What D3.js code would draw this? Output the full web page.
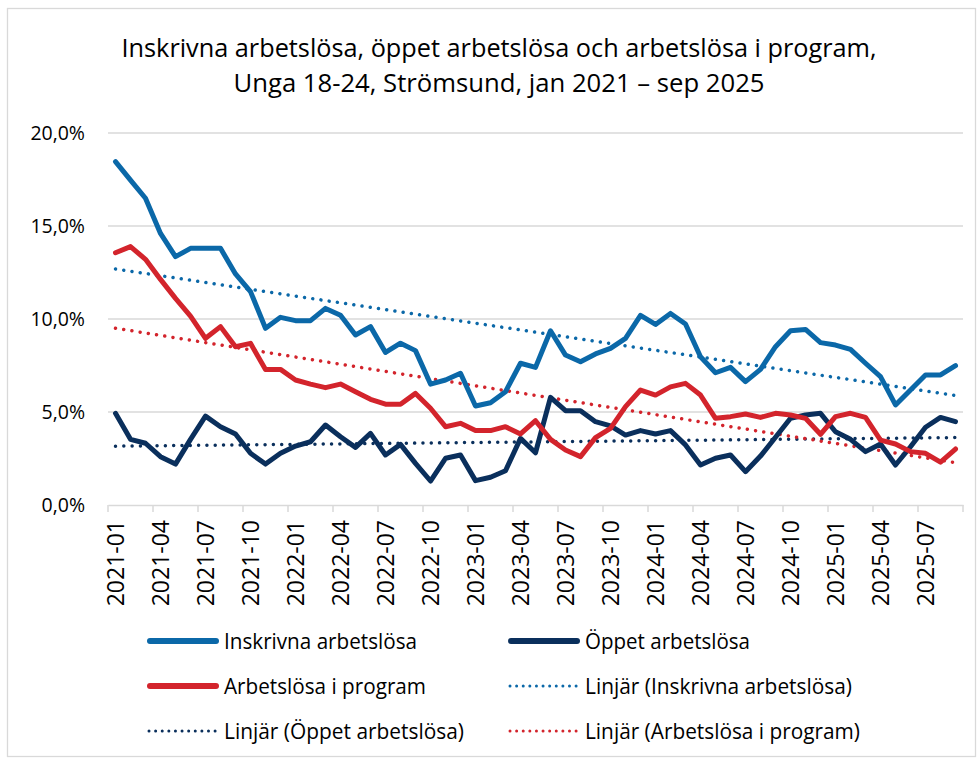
<!DOCTYPE html>
<html>
<head>
<meta charset="utf-8">
<script src="https://cdn.jsdelivr.net/npm/d3@7"></script>
<style>
  body { margin: 0; background: #fff; }
  text { font-family: "Open Sans", sans-serif; fill: #000; }
</style>
</head>
<body>
<script>
// SVG size
const width = 978;
const height = 760;

// months jan 2021 - sep 2025
const months = d3.timeMonths(new Date(2021, 0, 1), new Date(2025, 9, 1)).map(d3.timeFormat("%Y-%m"));

// values in percent
const inskrivna = [18.46, 17.47, 16.49, 14.6, 13.35, 13.8, 13.8, 13.8, 12.42, 11.47, 9.5, 10.09,
    9.91, 9.91, 10.57, 10.2, 9.14, 9.59, 8.2, 8.7, 8.3, 6.5, 6.72, 7.08,
    5.32, 5.5, 6.09, 7.62, 7.4, 9.37, 8.06, 7.7, 8.12, 8.42, 8.96, 10.2,
    9.71, 10.3, 9.73, 7.97, 7.11, 7.4, 6.63, 7.29, 8.51, 9.37, 9.44, 8.73,
    8.6, 8.37, 7.62, 6.9, 5.38, 6.18, 6.99, 6.99, 7.49];
const oppet = [4.93, 3.53, 3.32, 2.6, 2.2, 3.53, 4.78, 4.21, 3.82, 2.78, 2.2, 2.78,
    3.17, 3.4, 4.3, 3.67, 3.1, 3.85, 2.69, 3.26, 2.24, 1.29, 2.51, 2.69,
    1.31, 1.49, 1.84, 3.58, 2.81, 5.79, 5.07, 5.07, 4.48, 4.25, 3.76, 4.0,
    3.82, 4.0, 3.23, 2.15, 2.51, 2.69, 1.79, 2.63, 3.64, 4.66, 4.84, 4.93,
    3.94, 3.53, 2.87, 3.28, 2.15, 3.13, 4.18, 4.71, 4.48];
const program = [13.56, 13.89, 13.21, 12.13, 11.11, 10.16, 8.96, 9.59, 8.51, 8.69, 7.29, 7.29,
    6.72, 6.5, 6.31, 6.5, 6.09, 5.68, 5.42, 5.42, 6.0, 5.2, 4.21, 4.39,
    4.0, 4.0, 4.21, 3.82, 4.53, 3.53, 2.96, 2.6, 3.62, 4.12, 5.29, 6.18,
    5.91, 6.35, 6.54, 5.91, 4.66, 4.75, 4.89, 4.71, 4.93, 4.84, 4.66, 3.8,
    4.75, 4.93, 4.71, 3.49, 3.28, 2.87, 2.78, 2.3, 3.01];

const yTicks = [0, 5, 10, 15, 20];

const blue = "#0b68a8";
const navy = "#0a2f5c";
const red = "#d3242c";
const grid = "#d9d9d9";

const series = [
    { name: "Inskrivna arbetslösa", values: inskrivna, color: blue },
    { name: "Öppet arbetslösa", values: oppet, color: navy },
    { name: "Arbetslösa i program", values: program, color: red }
];

// create SVG
const svg = d3.select("body")
    .append("svg")
    .attr("width", width)
    .attr("height", height);

// chart border
svg.append("rect")
    .attr("x", 7.5).attr("y", 8.5)
    .attr("width", width - 10).attr("height", height - 12)
    .attr("fill", "none")
    .attr("stroke", grid)
    .attr("stroke-width", 1.3);

// title
const title = [
    { t: "Inskrivna arbetslösa, öppet arbetslösa och arbetslösa i program,", y: 56.5, w: 755 },
    { t: "Unga 18-24, Strömsund, jan 2021 – sep 2025", y: 91.5, w: 531 }
];
svg.selectAll(".title")
    .data(title)
    .enter()
    .append("text")
    .attr("class", "title")
    .attr("x", 499)
    .attr("y", d => d.y)
    .attr("text-anchor", "middle")
    .attr("textLength", d => d.w)
    .attr("lengthAdjust", "spacingAndGlyphs")
    .style("font-size", "25.5px")
    .text(d => d.t);

// scales
const x = d3.scaleBand()
    .domain(months)
    .range([108, 963]);

const y = d3.scaleLinear()
    .domain([0, 20])
    .range([505, 133]);

const cx = m => x(m) + x.bandwidth() / 2;

// gridlines
svg.selectAll(".grid")
    .data(yTicks.slice(1))
    .enter()
    .append("line")
    .attr("x1", 108).attr("x2", 963)
    .attr("y1", d => y(d)).attr("y2", d => y(d))
    .attr("stroke", grid)
    .attr("stroke-width", 1.5);

// Y axis labels
const yAxis = d3.axisLeft(y)
    .tickValues(yTicks)
    .tickSize(0)
    .tickPadding(0)
    .tickFormat(d => d3.format(".1f")(d).replace(".", ",") + "%");

svg.append("g")
    .attr("transform", "translate(85,0)")
    .call(yAxis)
    .call(g => g.select(".domain").remove())
    .call(g => g.selectAll("text")
        .style("font-size", "19.5px")
        .style("font-family", "'Open Sans', sans-serif")
        .attr("fill", "#000"));

// X axis
const tickMonths = months.filter((m, i) => i % 3 === 0);

const xAxis = d3.axisBottom(x)
    .tickValues(tickMonths)
    .tickSize(0)
    .tickPadding(0);

const gx = svg.append("g")
    .attr("transform", "translate(0,505)")
    .call(xAxis);

gx.select(".domain")
    .attr("stroke", grid)
    .attr("stroke-width", 1.5);

gx.selectAll("text")
    .attr("transform", "rotate(-90)")
    .attr("x", -15)
    .attr("y", 0)
    .attr("dy", "0.35em")
    .attr("text-anchor", "end")
    .style("font-size", "23px")
    .style("font-family", "'Open Sans', sans-serif")
    .attr("fill", "#000");

// tick marks between categories, every 3 months
const tickPos = d3.range(0, months.length + 1, 3).map(i => 108 + i * x.step());
svg.selectAll(".xtick")
    .data(tickPos)
    .enter()
    .append("line")
    .attr("x1", d => d).attr("x2", d => d)
    .attr("y1", 505).attr("y2", 512)
    .attr("stroke", grid)
    .attr("stroke-width", 1.5);

// linear trend (least squares, like Excel's "Linjär")
function trend(values) {
    const xs = values.map((v, i) => i);
    const mx = d3.mean(xs), my = d3.mean(values);
    const b = d3.sum(xs, (xi, i) => (xi - mx) * (values[i] - my)) / d3.sum(xs, xi => (xi - mx) ** 2);
    const a = my - b * mx;
    return [0, values.length - 1].map(i => ({ i: i, v: a + b * i }));
}

const line = d3.line()
    .x((d, i) => cx(months[i]))
    .y(d => y(d));

// trend lines drawn under the data lines
svg.selectAll(".trend")
    .data(series)
    .enter()
    .append("line")
    .attr("class", "trend")
    .each(function(s) {
        const t = trend(s.values);
        d3.select(this)
            .attr("x1", cx(months[t[0].i])).attr("y1", y(t[0].v))
            .attr("x2", cx(months[t[1].i])).attr("y2", y(t[1].v));
    })
    .attr("stroke", s => s.color)
    .attr("stroke-width", 3.5)
    .attr("stroke-linecap", "round")
    .attr("stroke-dasharray", "0.01 8.3");

// data lines
svg.selectAll(".series")
    .data(series)
    .enter()
    .append("path")
    .attr("class", "series")
    .attr("d", s => line(s.values))
    .attr("fill", "none")
    .attr("stroke", s => s.color)
    .attr("stroke-width", 5)
    .attr("stroke-linejoin", "round")
    .attr("stroke-linecap", "round");

// legend
const legend = [
    { label: "Inskrivna arbetslösa", color: blue, dotted: false, x: 147, y: 641, w: 193 },
    { label: "Öppet arbetslösa", color: navy, dotted: false, x: 508, y: 641, w: 165 },
    { label: "Arbetslösa i program", color: red, dotted: false, x: 147, y: 686, w: 202 },
    { label: "Linjär (Inskrivna arbetslösa)", color: blue, dotted: true, x: 508, y: 686, w: 267 },
    { label: "Linjär (Öppet arbetslösa)", color: navy, dotted: true, x: 147, y: 731, w: 240 },
    { label: "Linjär (Arbetslösa i program)", color: red, dotted: true, x: 508, y: 731, w: 275 }
];

const lg = svg.selectAll(".legend")
    .data(legend)
    .enter()
    .append("g")
    .attr("transform", d => `translate(${d.x},${d.y})`);

lg.append("line")
    .attr("x1", d => d.dotted ? 2 : 3).attr("x2", 69)
    .attr("y1", 0).attr("y2", 0)
    .attr("stroke", d => d.color)
    .attr("stroke-width", d => d.dotted ? 3 : 6)
    .attr("stroke-linecap", "round")
    .attr("stroke-dasharray", d => d.dotted ? "0.01 6.6" : null);

lg.append("text")
    .attr("x", 77)
    .attr("y", 8)
    .attr("textLength", d => d.w)
    .attr("lengthAdjust", "spacingAndGlyphs")
    .style("font-size", "21px")
    .text(d => d.label);
</script>
</body>
</html>
